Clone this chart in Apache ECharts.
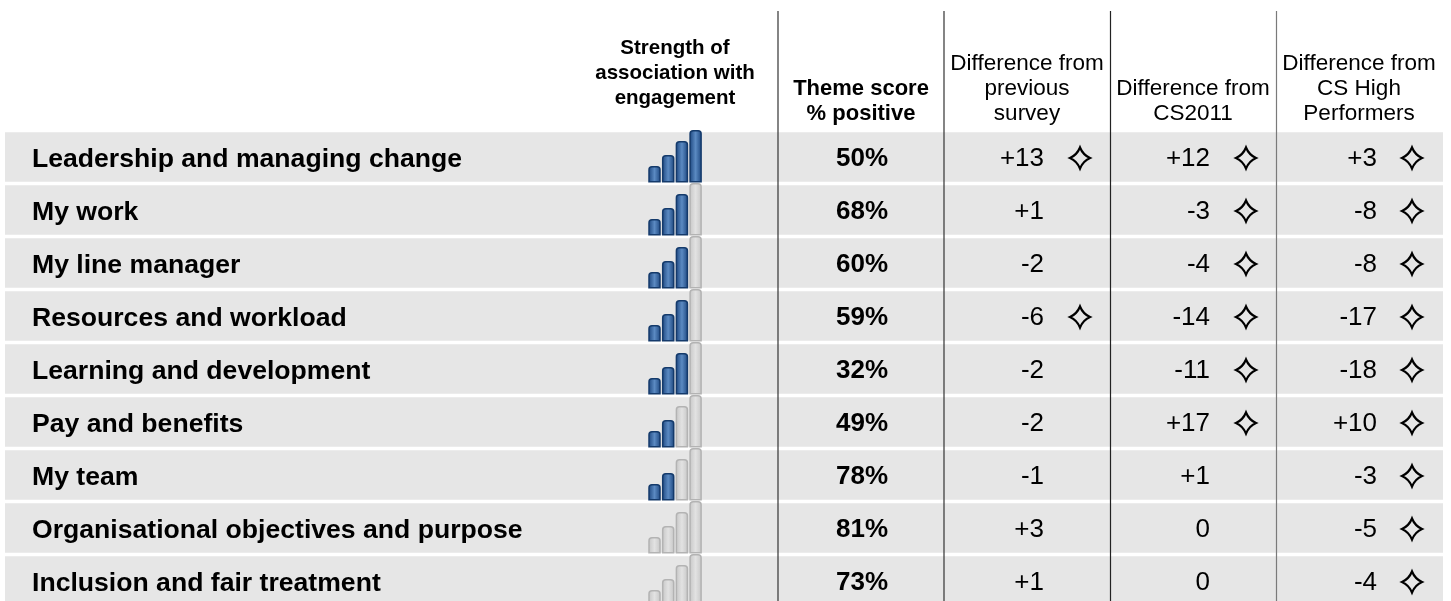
<!DOCTYPE html>
<html>
<head>
<meta charset="utf-8">
<script src="https://cdn.jsdelivr.net/npm/echarts@6/dist/echarts.min.js"></script>
<style>
  html, body { margin: 0; padding: 0; background: #fff; overflow: hidden; }
  #chart { width: 1451px; height: 610px; }
</style>
</head>
<body>
<div id="chart"></div>
<script>
// rows of the table
var themes = [
    'Leadership and managing change',
    'My work',
    'My line manager',
    'Resources and workload',
    'Learning and development',
    'Pay and benefits',
    'My team',
    'Organisational objectives and purpose',
    'Inclusion and fair treatment'
];
// strength of association (0-4 bars lit)
var strength = [4, 3, 3, 3, 3, 2, 2, 0, 0];
// theme score % positive
var scores = [50, 68, 60, 59, 32, 49, 78, 81, 73];
// differences, and whether each one is significant (star)
var diffPrev = [13, 1, -2, -6, -2, -2, -1, 3, 1];
var sigPrev  = [1, 0, 0, 1, 0, 0, 0, 0, 0];
var diffCS   = [12, -3, -4, -14, -11, 17, 1, 0, 0];
var sigCS    = [1, 1, 1, 1, 1, 1, 0, 0, 0];
var diffHigh = [3, -8, -8, -17, -18, 10, -3, -5, -4];
var sigHigh  = [1, 1, 1, 1, 1, 1, 1, 1, 1];
// column headings
var headStrength = 'Strength of\nassociation with\nengagement';
var headScore = 'Theme score\n% positive';
var headPrev = 'Difference from\nprevious\nsurvey';
var headCS = 'Difference from\nCS2011';
var headHigh = 'Difference from\nCS High\nPerformers';

var FONT = '"Liberation Sans", Arial, Helvetica, sans-serif';
var BAND_LEFT = 5, BAND_RIGHT = 1443, GAP = 3.3;
var ICON_X = 649, ICON_W = 11, ICON_STEP = 13.7, ICON_H = [15, 26, 40, 51];
var SCORE_X = 862;

var chart = echarts.init(document.getElementById('chart'));

function fmtDiff(v) {
    if (v > 0) return '+' + v;
    return String(v);
}

// four pointed star with slightly hollow sides
function starPath(cx, cy, rx, ry) {
    var k = 0.3;
    var p = function (x, y) { return (cx + x).toFixed(2) + ',' + (cy + y).toFixed(2); };
    return 'M' + p(0, -ry) +
        ' Q' + p(rx * k, -ry * k) + ' ' + p(rx, 0) +
        ' Q' + p(rx * k, ry * k) + ' ' + p(0, ry) +
        ' Q' + p(-rx * k, ry * k) + ' ' + p(-rx, 0) +
        ' Q' + p(-rx * k, -ry * k) + ' ' + p(0, -ry) + ' Z';
}

function rowData(vals, flags) {
    return vals.map(function (v, i) {
        return [0, i, v, flags ? flags[i] : 0];
    });
}

function bandSeries() {
    return {
        type: 'custom',
        z: 1,
        silent: true,
        data: rowData(scores),
        renderItem: function (params, api) {
            var c = api.coord([BAND_LEFT, api.value(1)]);
            var x1 = api.coord([BAND_RIGHT, 0])[0];
            var h = api.size([0, 1])[1];
            return {
                type: 'rect',
                shape: { x: c[0], y: c[1] - h / 2 + GAP / 2, width: x1 - c[0], height: h - GAP },
                style: { fill: '#e6e6e6' }
            };
        }
    };
}

function iconSeries() {
    return {
        type: 'custom',
        z: 3,
        silent: true,
        data: rowData(strength),
        renderItem: function (params, api) {
            var c = api.coord([ICON_X, api.value(1)]);
            var h = api.size([0, 1])[1];
            var bottom = c[1] + h / 2 - GAP / 2;
            var lit = api.value(2);
            var kids = [];
            for (var k = 0; k < 4; k++) {
                var on = k < lit;
                kids.push({
                    type: 'rect',
                    shape: { x: c[0] + k * ICON_STEP, y: bottom - ICON_H[k], width: ICON_W, height: ICON_H[k], r: [3, 3, 0, 0] },
                    style: {
                        fill: new echarts.graphic.LinearGradient(0, 0, 1, 0, on ? [
                            { offset: 0, color: '#1b457e' },
                            { offset: 0.5, color: '#5b8ac2' },
                            { offset: 1, color: '#1b457e' }
                        ] : [
                            { offset: 0, color: '#c6c6c6' },
                            { offset: 0.5, color: '#e2e2e2' },
                            { offset: 1, color: '#c6c6c6' }
                        ]),
                        stroke: on ? '#143a6b' : '#b3b3b3',
                        lineWidth: 1.5
                    }
                });
            }
            return { type: 'group', children: kids };
        }
    };
}

function scoreSeries() {
    return {
        type: 'custom',
        z: 3,
        silent: true,
        data: rowData(scores),
        renderItem: function (params, api) {
            var c = api.coord([SCORE_X, api.value(1)]);
            return {
                type: 'text',
                x: c[0], y: c[1] + 1.5,
                style: {
                    text: api.value(2) + '%',
                    fontFamily: FONT, fontSize: 26, fontWeight: 'bold',
                    fill: '#000', align: 'center', verticalAlign: 'middle'
                }
            };
        }
    };
}

function diffSeries(vals, flags, textRight, starX) {
    return {
        type: 'custom',
        z: 3,
        silent: true,
        data: rowData(vals, flags),
        renderItem: function (params, api) {
            var c = api.coord([textRight, api.value(1)]);
            var sx = api.coord([starX, 0])[0];
            var kids = [{
                type: 'text',
                x: c[0], y: c[1] + 1.5,
                style: {
                    text: fmtDiff(api.value(2)),
                    fontFamily: FONT, fontSize: 26,
                    fill: '#000', align: 'right', verticalAlign: 'middle'
                }
            }];
            if (api.value(3)) {
                kids.push({
                    type: 'path',
                    shape: { pathData: starPath(sx, c[1] + 1, 10, 10.5) },
                    style: { fill: 'none', stroke: '#000', lineWidth: 2.2, lineJoin: 'miter' }
                });
            }
            return { type: 'group', children: kids };
        }
    };
}

function header(text, x, y, size, bold) {
    return {
        type: 'text',
        x: x, y: y, z: 20,
        style: {
            text: text, fontFamily: FONT, fontSize: size,
            fontWeight: bold ? 'bold' : 'normal', lineHeight: 25,
            fill: '#000', align: 'center', verticalAlign: 'middle'
        }
    };
}

function vline(x, color) {
    return {
        type: 'line', z: 20, silent: true,
        shape: { x1: x, y1: 11, x2: x, y2: 610 },
        style: { stroke: color, lineWidth: 1.2 }
    };
}

var option = {
    animation: false,
    backgroundColor: '#ffffff',
    grid: { left: 0, right: 0, top: 130.5, height: 477 },
    xAxis: { type: 'value', min: 0, max: 1451, show: false },
    yAxis: {
        type: 'category',
        data: themes,
        inverse: true,
        z: 10,
        axisLine: { show: false },
        axisTick: { show: false },
        splitLine: { show: false },
        axisLabel: {
            inside: true,
            margin: 32,
            align: 'left',
            formatter: function (v) { return '{t|' + v + '}'; },
            rich: {
                t: {
                    padding: [6, 0, 0, 0],
                    fontFamily: FONT,
                    fontSize: 26.6,
                    fontWeight: 'bold',
                    color: '#000'
                }
            }
        }
    },
    graphic: [
        header(headStrength, 675, 73.5, 20.5, true),
        header(headScore, 861, 101, 22, true),
        header(headPrev, 1027, 89, 22.5, false),
        header(headCS, 1193, 101.5, 22.5, false),
        header(headHigh, 1359, 89, 22.5, false),
        vline(778, '#333333'),
        vline(944, '#333333'),
        vline(1110.5, '#222222'),
        vline(1276.5, '#7a7a7a')
    ],
    series: [
        bandSeries(),
        iconSeries(),
        scoreSeries(),
        diffSeries(diffPrev, sigPrev, 1044, 1080),
        diffSeries(diffCS, sigCS, 1210, 1246),
        diffSeries(diffHigh, sigHigh, 1377, 1412)
    ]
};

chart.setOption(option);
window.addEventListener('resize', function () {
    chart.resize();
});
</script>
</body>
</html>
